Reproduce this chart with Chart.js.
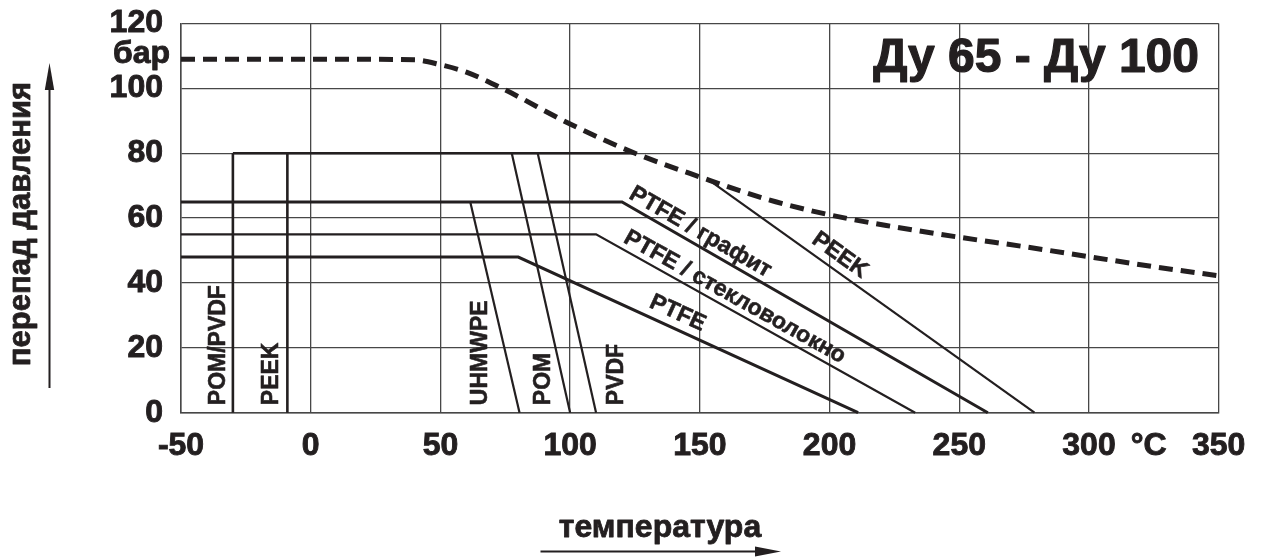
<!DOCTYPE html>
<html>
<head>
<meta charset="utf-8">
<script src="https://cdn.jsdelivr.net/npm/chart.js@4/dist/chart.umd.min.js"></script>
<style>
  html, body { margin: 0; padding: 0; background: #fff; }
  canvas { display: block; }
</style>
</head>
<body>
<canvas id="c" width="1262" height="557"></canvas>
<script>
// Axis ticks: temperature in °C and differential pressure in bar
const tempTicks = [-50, 0, 50, 100, 150, 200, 250, 300, 350];
const pressureTicks = [0, 20, 40, 60, 80, 100, 120];
const tempUnitLabel = '°C';
const tempUnitAt = 323;
const pressureUnitLabel = 'бар';
const pressureUnitAt = 110;

// Maximum differential pressure of the valve body (Ду 65 – Ду 100)
const bodyTemp     = [-50, 0, 40, 50, 60, 75, 100, 125, 150, 175, 200, 225, 250, 275, 300, 325, 350];
const bodyPressure = [109, 109, 108.8, 107.3, 105, 99.5, 89, 80, 72.7, 66, 61, 57.3, 54.1, 51.2, 48.1, 45, 42.2];

// Seat material limits (temperature / pressure break points)
const topLimitTemp = [-30, 125];          const topLimitPressure = [80, 80];
const pomPvdfColdTemp = [-30, -30];       const pomPvdfColdPressure = [0, 80];
const peekColdTemp = [-9, -9];            const peekColdPressure = [0, 80];
const peekHotTemp = [153, 279];           const peekHotPressure = [72, 0];
const ptfeGraphiteTemp = [-50, 120, 261]; const ptfeGraphitePressure = [65, 65, 0];
const ptfeGlassTemp = [-50, 110, 233];    const ptfeGlassPressure = [55, 55, 0];
const ptfeTemp = [-50, 80, 211];          const ptfePressure = [48, 48, 0];
const uhmwpeTemp = [61.5, 80.5];          const uhmwpePressure = [65, 0];
const pomTemp = [77.5, 100];              const pomPressure = [80, 0];
const pvdfTemp = [87.5, 110];             const pvdfPressure = [80, 0];

const INK = '#231f20';
const GRID = '#474747';
const FONT = '"Liberation Sans", Arial, sans-serif';

function pts(xs, ys) { return xs.map((x, i) => ({ x: x, y: ys[i] })); }

function solid(xs, ys, width) {
  return {
    data: pts(xs, ys),
    borderColor: INK,
    borderWidth: width,
    pointRadius: 0,
    tension: 0,
    fill: false,
    clip: false
  };
}

const datasets = [
  solid(topLimitTemp, topLimitPressure, 2.4),
  solid(pomPvdfColdTemp, pomPvdfColdPressure, 2.6),
  solid(peekColdTemp, peekColdPressure, 2.6),
  solid(peekHotTemp, peekHotPressure, 2.2),
  solid(ptfeGraphiteTemp, ptfeGraphitePressure, 3),
  solid(ptfeGlassTemp, ptfeGlassPressure, 2.2),
  solid(ptfeTemp, ptfePressure, 3),
  solid(uhmwpeTemp, uhmwpePressure, 2.2),
  solid(pomTemp, pomPressure, 2.2),
  solid(pvdfTemp, pvdfPressure, 2.2),
  {
    data: pts(bodyTemp, bodyPressure),
    borderColor: INK,
    borderWidth: 5,
    borderDash: [14, 8],
    borderCapStyle: 'butt',
    pointRadius: 0,
    cubicInterpolationMode: 'monotone',
    fill: false,
    clip: false
  }
];

// Material names written along the limit lines
const verticalLabels = [
  { text: 'POM/PVDF', at: -33 },
  { text: 'PEEK',     at: -12.6 },
  { text: 'UHMWPE',   at: 68 },
  { text: 'POM',      at: 92.3 },
  { text: 'PVDF',     at: 120.4 }
];
const slopedLabels = [
  { text: 'PTFE / графит',        xs: ptfeGraphiteTemp.slice(1), ys: ptfeGraphitePressure.slice(1), t: 0.197, off: 6.5 },
  { text: 'PTFE / стекловолокно', xs: ptfeGlassTemp.slice(1),    ys: ptfeGlassPressure.slice(1),    t: 0.415, off: 6.5 },
  { text: 'PTFE',                 xs: ptfeTemp.slice(1),         ys: ptfePressure.slice(1),         t: 0.45,  off: 9 },
  { text: 'PEEK',                 xs: peekHotTemp,               ys: peekHotPressure,               t: 0.378, off: 8.5 }
];

// bold text with a thin outline of the same ink for a heavier print look
function heavyText(ctx, text, x, y, w) {
  ctx.lineWidth = w;
  ctx.lineJoin = 'round';
  ctx.strokeText(text, x, y);
  ctx.fillText(text, x, y);
}

const annotations = {
  id: 'annotations',
  afterDatasetsDraw(chart) {
    const ctx = chart.ctx;
    const xs = chart.scales.x, ys = chart.scales.y;
    ctx.save();
    ctx.fillStyle = INK;
    ctx.strokeStyle = INK;

    // vertical material names, read bottom-up
    ctx.font = 'bold 23px ' + FONT;
    ctx.textAlign = 'left';
    ctx.textBaseline = 'alphabetic';
    const baseY = ys.getPixelForValue(0) - 7.5;
    verticalLabels.forEach(l => {
      ctx.save();
      ctx.translate(xs.getPixelForValue(l.at), baseY);
      ctx.rotate(-Math.PI / 2);
      heavyText(ctx, l.text, 0, 0, 0.6);
      ctx.restore();
    });

    // names along the sloped segments
    ctx.font = 'bold 23px ' + FONT;
    ctx.textAlign = 'center';
    slopedLabels.forEach(l => {
      const x0 = xs.getPixelForValue(l.xs[0]), y0 = ys.getPixelForValue(l.ys[0]);
      const x1 = xs.getPixelForValue(l.xs[1]), y1 = ys.getPixelForValue(l.ys[1]);
      const ang = Math.atan2(y1 - y0, x1 - x0);
      const px = x0 + (x1 - x0) * l.t + Math.sin(ang) * l.off;
      const py = y0 + (y1 - y0) * l.t - Math.cos(ang) * l.off;
      ctx.save();
      ctx.translate(px, py);
      ctx.rotate(ang);
      heavyText(ctx, l.text, 0, 0, 0.6);
      ctx.restore();
    });

    // heading
    ctx.font = 'bold 48px ' + FONT;
    ctx.textAlign = 'right';
    heavyText(ctx, 'Ду 65 - Ду 100', 1199, 71.5, 1.2);

    // pressure unit between the 100 and 120 ticks
    ctx.font = 'bold 32px ' + FONT;
    ctx.textAlign = 'right';
    heavyText(ctx, pressureUnitLabel, 170, ys.getPixelForValue(pressureUnitAt) + 7, 0.9);

    // axis titles with arrows
    ctx.font = 'bold 31px ' + FONT;
    ctx.textAlign = 'center';
    ctx.save();
    ctx.translate(30, 224);
    ctx.rotate(-Math.PI / 2);
    heavyText(ctx, 'перепад давления', 0, 0, 0.8);
    ctx.restore();

    ctx.font = 'bold 32px ' + FONT;
    heavyText(ctx, 'температура', 660, 536.5, 0.8);

    ctx.lineWidth = 2;
    ctx.beginPath();
    ctx.moveTo(49.5, 388); ctx.lineTo(49.5, 88);
    ctx.moveTo(540.5, 551.5); ctx.lineTo(758, 551.5);
    ctx.stroke();
    ctx.beginPath();
    ctx.moveTo(49.5, 63); ctx.lineTo(54.2, 90); ctx.lineTo(44.8, 90); ctx.closePath();
    ctx.fill();
    ctx.beginPath();
    ctx.moveTo(781, 551.5); ctx.lineTo(755, 546.5); ctx.lineTo(755, 556.5); ctx.closePath();
    ctx.fill();
    ctx.restore();
  }
};

const tickFont = { family: FONT, size: 32, weight: 'bold' };

new Chart(document.getElementById('c'), {
  type: 'line',
  data: { datasets: datasets },
  plugins: [annotations],
  options: {
    responsive: false,
    maintainAspectRatio: false,
    devicePixelRatio: 1,
    animation: false,
    events: [],
    layout: { padding: { top: 23.5, right: 43.3, left: 0, bottom: 0 } },
    plugins: { legend: { display: false }, tooltip: { enabled: false }, title: { display: false } },
    scales: {
      x: {
        type: 'linear',
        min: tempTicks[0],
        max: tempTicks[tempTicks.length - 1],
        afterBuildTicks(scale) {
          scale.ticks = tempTicks.concat([tempUnitAt]).sort((a, b) => a - b).map(v => ({ value: v }));
        },
        afterFit(scale) {
          scale.height = 144.3;
          scale.paddingLeft = 0;
          scale.paddingRight = 0;
        },
        ticks: {
          autoSkip: false,
          maxRotation: 0,
          padding: 14,
          color: INK,
          textStrokeColor: INK,
          textStrokeWidth: 0.9,
          font: tickFont,
          callback: v => (v === tempUnitAt ? tempUnitLabel : String(v))
        },
        grid: {
          drawTicks: false,
          lineWidth: 1.3,
          color: c => (c.tick && c.tick.value === tempUnitAt ? 'rgba(0,0,0,0)' : GRID)
        },
        border: { display: true, color: GRID, width: 1.5 }
      },
      y: {
        type: 'linear',
        min: pressureTicks[0],
        max: pressureTicks[pressureTicks.length - 1],
        afterBuildTicks(scale) { scale.ticks = pressureTicks.map(v => ({ value: v })); },
        afterFit(scale) {
          scale.width = 181;
          scale.paddingTop = 0;
          scale.paddingBottom = 0;
        },
        ticks: {
          padding: 18,
          color: INK,
          textStrokeColor: INK,
          textStrokeWidth: 0.9,
          font: tickFont
        },
        grid: { drawTicks: false, lineWidth: 1.3, color: GRID },
        border: { display: true, color: GRID, width: 1.5 }
      }
    }
  }
});
</script>
</body>
</html>
